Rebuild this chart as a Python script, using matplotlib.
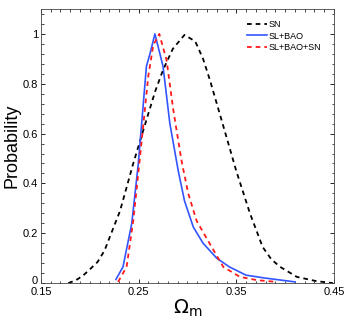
import matplotlib
matplotlib.use('Agg')
import matplotlib.pyplot as plt
import matplotlib.ticker as ticker
import matplotlib.transforms as mtransforms

plt.rcParams['font.family'] = ['Liberation Sans', 'DejaVu Sans']

# SN
sn_x = [0.178, 0.186, 0.193, 0.200, 0.208, 0.215, 0.222, 0.231, 0.2445, 0.258,
        0.267, 0.275, 0.285, 0.297, 0.308, 0.316, 0.323, 0.336, 0.350, 0.364,
        0.377, 0.386, 0.395, 0.412, 0.432, 0.449]
sn_y = [0.0, 0.012, 0.03, 0.055, 0.085, 0.13, 0.2, 0.29, 0.48, 0.655,
        0.77, 0.855, 0.94, 0.996, 0.97, 0.9, 0.815, 0.64, 0.45, 0.28,
        0.145, 0.095, 0.065, 0.025, 0.008, 0.0]

# SL+BAO
bao_x = [0.2268, 0.234, 0.243, 0.2497, 0.258, 0.2616, 0.2667, 0.275, 0.282,
         0.2906, 0.297, 0.306, 0.316, 0.330, 0.343, 0.360, 0.380, 0.410]
bao_y = [0.015, 0.065, 0.24, 0.48, 0.87, 0.92, 1.0, 0.87, 0.64,
         0.45, 0.33, 0.225, 0.16, 0.10, 0.065, 0.032, 0.02, 0.005]

# SL+BAO+SN
all_x = [0.229, 0.2377, 0.2445, 0.251, 0.2599, 0.265, 0.2712, 0.2786, 0.2855,
         0.294, 0.3008, 0.3094, 0.3196, 0.3367, 0.3538, 0.371, 0.391]
all_y = [0.005, 0.065, 0.25, 0.49, 0.83, 0.955, 1.0, 0.895, 0.695,
         0.49, 0.36, 0.25, 0.18, 0.065, 0.025, 0.012, 0.005]

fig = plt.figure(figsize=(3.53, 3.21), dpi=100)
ax = fig.add_axes([0.116, 0.118, 0.830, 0.854])

ax.plot(sn_x, sn_y, color='black', linestyle=(0, (2.6, 2.2)), linewidth=1.3, label='SN')
ax.plot(bao_x, bao_y, color='#3355ff', linewidth=1.2, label='SL+BAO')
ax.plot(all_x, all_y, color='#ff1a1a', linestyle=(0, (2.6, 2.2)), linewidth=1.3, label='SL+BAO+SN')

ax.set_xlim(0.15, 0.45)
ax.set_ylim(0, 1.1)
ax.set_xticks([0.15, 0.25, 0.35, 0.45])
ax.set_xticklabels(['0.15', '0.25', '0.35', '0.45'])
ax.set_yticks([0, 0.2, 0.4, 0.6, 0.8, 1.0])
ax.set_yticklabels(['0', '0.2', '0.4', '0.6', '0.8', '1'])
ax.xaxis.set_minor_locator(ticker.MultipleLocator(0.01))
ax.yaxis.set_minor_locator(ticker.MultipleLocator(0.04))
ax.tick_params(which='both', direction='in', top=True, right=True, labelsize=8)
ax.tick_params(axis='x', pad=3)
ax.tick_params(axis='y', pad=2)
ax.tick_params(which='major', length=3, width=0.6)
ax.tick_params(which='minor', length=1.8, width=0.5)
for s in ax.spines.values():
    s.set_linewidth(0.6)
    s.set_color('#444444')

# lift the "0" label a touch so it clears "0.15"
zero = ax.get_yticklabels()[0]
zero.set_transform(zero.get_transform() + mtransforms.ScaledTranslation(0, 2 / 72, fig.dpi_scale_trans))

ax.set_xlabel(r'$\Omega_\mathrm{m}$', fontsize=14, labelpad=0)
ax.set_ylabel('Probability', fontsize=13, labelpad=2)

ax.legend(loc='upper right', frameon=False, fontsize=6.5, handlelength=2.2,
          handletextpad=0.2, labelspacing=0.3, bbox_to_anchor=(0.985, 0.99))

fig.savefig('out.png', dpi=100)
